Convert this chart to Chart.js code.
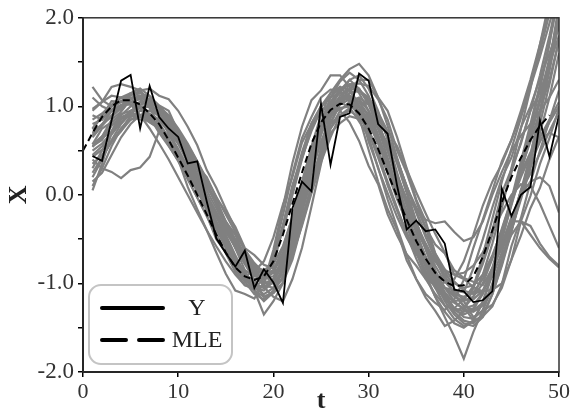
<!DOCTYPE html>
<html>
<head>
<meta charset="utf-8">
<script src="https://cdn.jsdelivr.net/npm/chart.js@4/dist/chart.umd.min.js"></script>
<style>
  html, body { margin: 0; padding: 0; background: #fff; }
</style>
</head>
<body>
<canvas id="chart" width="572" height="419"></canvas>
<script>
// observed series Y, t = 1..50
const observed = [0.44, 0.385, 0.84, 1.29, 1.355, 0.75, 1.23, 0.88, 0.75, 0.655,
  0.355, 0.38, -0.075, -0.49, -0.66, -0.81, -0.63, -1.05, -0.84, -0.99,
  -1.22, -0.15, 0.15, 0.04, 1.03, 0.34, 0.88, 0.92, 1.37, 1.29,
  0.80, 0.69, 0.10, -0.39, -0.29, -0.41, -0.39, -0.55, -1.07, -1.09,
  -1.21, -1.19, -1.09, 0.07, -0.24, 0.0, 0.09, 0.84, 0.43, 0.90];

// MLE estimate, t = 0..49
const mle = [0.50, 0.70, 0.88, 1.00, 1.07, 1.07, 1.02, 0.92, 0.80, 0.62,
  0.42, 0.22, 0.00, -0.22, -0.45, -0.65, -0.82, -0.92, -0.96, -0.92,
  -0.75, -0.45, -0.10, 0.25, 0.58, 0.82, 0.96, 1.03, 1.02, 0.92,
  0.75, 0.52, 0.25, -0.02, -0.28, -0.52, -0.72, -0.88, -0.98, -1.03,
  -1.02, -0.92, -0.70, -0.40, -0.08, 0.20, 0.42, 0.62, 0.78, 0.90];

// simulated paths, t = 1..50
const paths = [
  [1.22, 1.07, 1.0, 1.05, 1.15, 1.2, 1.12, 1.0, 0.85, 0.66, 0.45, 0.22, 0.0, -0.22, -0.45, -0.68, -0.9, -1.08, -1.2, -1.1, -0.85, -0.45, 0.02, 0.45, 0.82, 1.1, 1.28, 1.38, 1.3, 1.12, 0.85, 0.5, 0.15, -0.2, -0.52, -0.8, -1.05, -1.25, -1.4, -1.48, -1.42, -1.22, -0.9, -0.5, -0.1, 0.3, 0.7, 1.1, 1.55, 2.0],
  [0.1, 0.3, 0.55, 0.75, 0.88, 0.95, 0.95, 0.9, 0.8, 0.66, 0.5, 0.3, 0.1, -0.1, -0.3, -0.5, -0.66, -0.8, -0.88, -0.88, -0.78, -0.55, -0.2, 0.18, 0.5, 0.75, 0.9, 0.98, 1.0, 0.92, 0.75, 0.5, 0.22, -0.05, -0.32, -0.55, -0.75, -0.9, -1.0, -1.05, -1.02, -0.9, -0.68, -0.4, -0.08, 0.2, 0.45, 0.65, 0.85, 1.05],
  [0.4, 0.3, 0.26, 0.19, 0.28, 0.31, 0.43, 0.72, 0.68, 0.5, 0.32, 0.12, -0.08, -0.3, -0.5, -0.7, -0.88, -1.0, -1.05, -0.95, -0.7, -0.35, 0.05, 0.42, 0.72, 0.92, 1.02, 1.08, 1.0, 0.85, 0.62, 0.35, 0.05, -0.22, -0.48, -0.7, -0.9, -1.05, -1.15, -1.2, -1.15, -1.0, -0.72, -0.4, -0.05, 0.3, 0.6, 0.95, 1.3, 1.75],
  [0.75, 0.9, 1.0, 1.05, 1.05, 0.98, 0.88, 0.74, 0.56, 0.38, 0.18, -0.03, -0.24, -0.45, -0.65, -0.82, -0.95, -1.0, -0.92, -0.7, -0.35, 0.08, 0.48, 0.8, 1.0, 1.1, 1.15, 1.08, 0.92, 0.7, 0.42, 0.12, -0.16, -0.42, -0.66, -0.86, -1.02, -1.14, -1.2, -1.18, -1.05, -0.78, -0.45, -0.1, 0.25, 0.6, 0.95, 1.35, 1.8, 2.3],
  [0.45, 0.55, 0.68, 0.82, 0.92, 0.98, 1.0, 0.95, 0.85, 0.72, 0.56, 0.38, 0.18, -0.02, -0.22, -0.42, -0.62, -0.8, -0.92, -0.98, -0.9, -0.65, -0.28, 0.1, 0.45, 0.75, 0.95, 1.05, 1.1, 1.02, 0.88, 0.65, 0.38, 0.1, -0.18, -0.44, -0.66, -0.84, -0.98, -1.08, -1.12, -1.08, -0.92, -0.65, -0.3, 0.05, 0.35, 0.6, 0.82, 1.0],
  [0.9, 0.85, 1.0, 1.1, 1.12, 1.18, 1.05, 0.98, 0.8, 0.7, 0.48, 0.35, 0.1, -0.05, -0.3, -0.45, -0.7, -0.82, -1.0, -0.95, -0.8, -0.4, 0.0, 0.5, 0.75, 1.05, 1.15, 1.3, 1.2, 1.05, 0.78, 0.55, 0.2, -0.05, -0.38, -0.6, -0.9, -1.1, -1.3, -1.35, -1.3, -1.1, -0.82, -0.45, -0.1, 0.35, 0.75, 1.2, 1.7, 2.4],
  [0.55, 0.62, 0.78, 0.88, 0.92, 0.9, 0.85, 0.76, 0.62, 0.45, 0.28, 0.1, -0.08, -0.25, -0.42, -0.58, -0.72, -0.82, -0.85, -0.78, -0.58, -0.25, 0.12, 0.45, 0.72, 0.88, 0.98, 1.0, 0.95, 0.8, 0.6, 0.35, 0.08, -0.18, -0.4, -0.6, -0.75, -0.85, -0.9, -0.88, -0.8, -0.65, -0.42, -0.2, 0.0, 0.12, 0.1, -0.1, -0.35, -0.6],
  [0.3, 0.5, 0.72, 0.9, 1.0, 1.05, 1.02, 0.92, 0.78, 0.6, 0.4, 0.2, 0.0, -0.2, -0.4, -0.6, -0.78, -0.9, -0.95, -0.85, -0.6, -0.25, 0.15, 0.52, 0.82, 1.0, 1.1, 1.12, 1.0, 0.82, 0.58, 0.3, 0.02, -0.04, -0.15, -0.28, -0.32, -0.3, -0.42, -0.52, -0.48, -0.3, 0.0, 0.26, 0.5, 0.67, 0.8, 0.95, 1.1, 1.3],
  [0.2, 0.4, 0.62, 0.8, 0.92, 1.0, 1.0, 0.92, 0.8, 0.62, 0.42, 0.2, -0.02, -0.25, -0.48, -0.7, -0.9, -1.05, -1.12, -1.05, -0.82, -0.45, 0.0, 0.42, 0.78, 1.02, 1.18, 1.25, 1.2, 1.02, 0.75, 0.42, 0.08, -0.28, -0.6, -0.9, -1.15, -1.38, -1.6, -1.85, -1.55, -1.3, -1.0, -0.7, -0.45, -0.3, -0.35, -0.55, -0.7, -0.8],
  [0.05, 0.35, 0.7, 0.95, 1.08, 1.12, 1.08, 0.98, 0.82, 0.62, 0.4, 0.15, -0.1, -0.35, -0.58, -0.78, -0.95, -1.08, -1.15, -1.1, -0.92, -0.58, -0.15, 0.3, 0.68, 0.98, 1.18, 1.3, 1.35, 1.2, 0.95, 0.62, 0.25, -0.1, -0.42, -0.72, -0.98, -1.2, -1.35, -1.45, -1.48, -1.38, -1.12, -0.78, -0.4, 0.0, 0.42, 0.9, 1.45, 2.1],
  [0.65, 0.78, 0.9, 1.0, 1.08, 1.1, 1.05, 0.92, 0.78, 0.58, 0.36, 0.14, -0.1, -0.32, -0.54, -0.75, -0.92, -1.05, -1.08, -0.98, -0.72, -0.32, 0.12, 0.55, 0.9, 1.15, 1.3, 1.42, 1.48, 1.35, 1.1, 0.78, 0.42, 0.05, -0.3, -0.62, -0.9, -1.12, -1.28, -1.38, -1.4, -1.3, -1.05, -0.72, -0.35, 0.05, 0.45, 0.9, 1.4, 1.95],
  [0.5, 0.58, 0.7, 0.85, 0.95, 1.02, 1.05, 1.0, 0.9, 0.75, 0.58, 0.38, 0.15, -0.1, -0.35, -0.6, -0.85, -1.08, -1.35, -1.2, -1.0, -0.62, -0.18, 0.25, 0.6, 0.88, 1.05, 1.15, 1.18, 1.08, 0.92, 0.68, 0.4, 0.1, -0.2, -0.48, -0.72, -0.95, -1.12, -1.25, -1.3, -1.22, -1.05, -0.75, -0.4, -0.02, 0.38, 0.8, 1.25, 1.75],
  [0.85, 0.92, 1.02, 1.1, 1.15, 1.12, 1.02, 0.9, 0.75, 0.58, 0.4, 0.2, 0.0, -0.2, -0.4, -0.58, -0.75, -0.88, -0.95, -0.88, -0.65, -0.3, 0.1, 0.48, 0.78, 0.98, 1.08, 1.12, 1.05, 0.9, 0.66, 0.38, 0.08, -0.22, -0.5, -0.75, -0.95, -1.1, -1.22, -1.28, -1.25, -1.1, -0.85, -0.5, -0.12, 0.25, 0.65, 1.05, 1.5, 2.05],
  [0.35, 0.45, 0.6, 0.72, 0.85, 0.88, 0.82, 0.75, 0.6, 0.48, 0.3, 0.15, -0.05, -0.2, -0.38, -0.55, -0.7, -0.85, -0.9, -0.85, -0.7, -0.4, -0.05, 0.3, 0.6, 0.8, 0.9, 0.95, 0.88, 0.72, 0.5, 0.25, -0.05, -0.3, -0.55, -0.75, -0.92, -1.05, -1.12, -1.15, -1.1, -0.95, -0.7, -0.38, -0.05, 0.25, 0.48, 0.62, 0.7, 0.65],
  [0.95, 1.05, 1.12, 1.1, 1.02, 0.9, 0.75, 0.58, 0.4, 0.2, 0.0, -0.2, -0.4, -0.58, -0.75, -0.9, -1.02, -1.05, -0.95, -0.72, -0.4, 0.0, 0.4, 0.75, 1.0, 1.15, 1.22, 1.18, 1.0, 0.75, 0.45, 0.15, -0.15, -0.45, -0.72, -0.95, -1.12, -1.25, -1.3, -1.28, -1.15, -0.9, -0.55, -0.15, 0.3, 0.75, 1.2, 1.7, 2.2, 2.8],
  [0.7, 0.8, 0.88, 0.98, 1.05, 1.08, 1.0, 0.88, 0.7, 0.52, 0.3, 0.08, -0.15, -0.38, -0.6, -0.8, -0.98, -1.12, -1.18, -1.08, -0.82, -0.42, 0.02, 0.45, 0.8, 1.05, 1.2, 1.25, 1.15, 0.95, 0.68, 0.35, 0.0, -0.35, -0.65, -0.92, -1.15, -1.32, -1.45, -1.5, -1.42, -1.2, -0.88, -0.48, -0.05, 0.38, 0.8, 1.25, 1.72, 2.25],
  [0.25, 0.42, 0.6, 0.75, 0.85, 0.9, 0.9, 0.84, 0.72, 0.58, 0.42, 0.24, 0.05, -0.15, -0.35, -0.55, -0.72, -0.86, -0.94, -0.92, -0.75, -0.42, -0.02, 0.38, 0.7, 0.92, 1.05, 1.1, 1.08, 0.95, 0.75, 0.5, 0.22, -0.06, -0.34, -0.58, -0.8, -0.98, -1.1, -1.18, -1.18, -1.08, -0.85, -0.55, -0.25, 0.0, 0.15, 0.2, 0.1, -0.2],
  [1.1, 1.0, 0.95, 0.98, 1.05, 1.1, 1.08, 1.0, 0.88, 0.72, 0.55, 0.35, 0.12, -0.1, -0.32, -0.52, -0.72, -0.88, -1.0, -1.0, -0.85, -0.52, -0.1, 0.32, 0.68, 0.95, 1.12, 1.2, 1.18, 1.05, 0.82, 0.52, 0.2, -0.12, -0.42, -0.7, -0.95, -1.15, -1.32, -1.42, -1.45, -1.35, -1.12, -0.8, -0.42, 0.0, 0.45, 0.95, 1.5, 2.15],
  [0.15, 0.25, 0.45, 0.65, 0.8, 0.9, 0.95, 0.92, 0.82, 0.68, 0.52, 0.32, 0.12, -0.1, -0.32, -0.52, -0.72, -0.9, -1.02, -1.05, -0.95, -0.7, -0.32, 0.1, 0.5, 0.82, 1.02, 1.15, 1.18, 1.1, 0.92, 0.65, 0.35, 0.02, -0.3, -0.6, -0.85, -1.05, -1.2, -1.3, -1.32, -1.25, -1.05, -0.75, -0.4, -0.05, 0.3, 0.7, 1.1, 1.6],
  [0.8, 0.85, 0.95, 1.02, 1.02, 0.98, 0.9, 0.78, 0.62, 0.45, 0.25, 0.05, -0.15, -0.35, -0.55, -0.72, -0.88, -1.0, -1.05, -0.98, -0.78, -0.42, 0.0, 0.4, 0.72, 0.95, 1.08, 1.12, 1.05, 0.88, 0.62, 0.32, 0.0, -0.3, -0.58, -0.82, -1.02, -1.18, -1.28, -1.32, -1.28, -1.12, -0.85, -0.55, -0.3, -0.3, -0.45, -0.6, -0.72, -0.82],
  [0.67, 0.79, 0.96, 1.06, 1.1, 1.08, 1.0, 0.92, 0.69, 0.5, 0.26, 0.03, -0.12, -0.43, -0.66, -0.87, -1.02, -1.07, -1.02, -0.67, -0.23, 0.24, 0.64, 0.88, 1.1, 1.19, 1.18, 1.05, 0.88, 0.51, 0.15, -0.16, -0.4, -0.74, -0.95, -1.12, -1.22, -1.3, -1.18, -0.96, -0.6, -0.28, 0.05, 0.38, 0.62, 0.9, 1.25, 1.62, 2.05, 2.5],
  [0.57, 0.75, 0.82, 0.91, 0.95, 1.0, 0.87, 0.77, 0.63, 0.46, 0.2, 0.07, -0.12, -0.31, -0.51, -0.76, -0.85, -0.92, -0.91, -0.8, -0.36, 0.05, 0.42, 0.72, 0.96, 1.0, 1.05, 0.99, 0.83, 0.66, 0.3, 0.02, -0.25, -0.48, -0.67, -0.78, -0.98, -1.05, -1.08, -1.1, -0.83, -0.5, -0.14, 0.19, 0.42, 0.76, 1.0, 1.31, 1.6, 1.9],
  [0.69, 0.79, 0.95, 1.0, 1.14, 1.15, 1.11, 1.01, 0.95, 0.71, 0.52, 0.31, 0.08, -0.05, -0.34, -0.57, -0.78, -0.96, -1.15, -1.11, -0.99, -0.73, -0.33, 0.05, 0.54, 0.87, 1.08, 1.25, 1.26, 1.23, 1.08, 0.85, 0.5, 0.25, -0.07, -0.37, -0.7, -0.86, -1.06, -1.2, -1.38, -1.31, -1.24, -1.05, -0.73, -0.3, -0.01, 0.35, 0.64, 0.98],
  [0.55, 0.65, 0.7, 0.86, 0.9, 0.88, 0.88, 0.7, 0.55, 0.39, 0.2, 0.06, -0.18, -0.38, -0.57, -0.74, -0.92, -0.86, -0.75, -0.48, -0.11, 0.2, 0.59, 0.8, 0.93, 1.04, 0.95, 0.82, 0.61, 0.33, 0.12, -0.22, -0.46, -0.67, -0.8, -0.95, -1.02, -0.99, -0.95, -0.75, -0.45, -0.12, 0.15, 0.35, 0.62, 0.95, 1.3, 1.7, 2.1, 2.5],
  [0.57, 0.66, 0.79, 0.88, 0.88, 0.95, 0.92, 0.85, 0.74, 0.68, 0.45, 0.28, 0.1, -0.09, -0.32, -0.44, -0.62, -0.77, -0.88, -0.86, -0.86, -0.67, -0.35, 0.02, 0.37, 0.65, 0.9, 0.96, 1.03, 1.03, 0.93, 0.72, 0.55, 0.29, 0.03, -0.21, -0.44, -0.65, -0.9, -0.95, -1.04, -1.09, -1.07, -1.0, -0.73, -0.46, -0.15, 0.08, 0.4, 0.66],
  [0.97, 1.05, 1.22, 1.25, 1.22, 1.18, 0.98, 0.8, 0.58, 0.4, 0.09, -0.16, -0.4, -0.65, -0.89, -1.08, -1.12, -1.17, -0.99, -0.62, -0.14, 0.36, 0.77, 1.07, 1.18, 1.35, 1.35, 1.22, 0.99, 0.6, 0.31, -0.05, -0.37, -0.68, -0.95, -1.16, -1.31, -1.48, -1.42, -1.31, -1.05, -0.68, -0.27, 0.15, 0.52, 0.87, 1.22, 1.56, 1.94, 2.3],
  [0.54, 0.66, 0.85, 0.94, 1.08, 1.18, 1.2, 1.12, 1.08, 0.95, 0.77, 0.56, 0.28, 0.08, -0.16, -0.38, -0.62, -0.85, -1.04, -1.15, -1.2, -0.95, -0.6, -0.13, 0.35, 0.8, 1.03, 1.2, 1.3, 1.3, 1.1, 0.95, 0.65, 0.3, -0.05, -0.3, -0.66, -0.91, -1.12, -1.26, -1.42, -1.37, -1.26, -1.01, -0.58, -0.26, 0.14, 0.5, 0.84, 1.18],
  [0.74, 0.89, 1.06, 1.05, 1.05, 1.0, 0.82, 0.76, 0.58, 0.46, 0.18, -0.03, -0.23, -0.5, -0.65, -0.84, -0.98, -0.95, -0.95, -0.71, -0.34, 0.11, 0.42, 0.81, 1.0, 1.1, 1.22, 1.1, 0.95, 0.71, 0.5, 0.11, -0.18, -0.45, -0.62, -0.89, -1.05, -1.16, -1.28, -1.18, -1.03, -0.74, -0.4, 0.02, 0.29, 0.58, 0.95, 1.16, 1.47, 1.8],
  [0.43, 0.51, 0.6, 0.72, 0.9, 0.85, 0.85, 0.81, 0.65, 0.61, 0.47, 0.32, 0.2, -0.03, -0.19, -0.36, -0.6, -0.68, -0.79, -0.83, -0.7, -0.58, -0.27, 0.09, 0.4, 0.7, 0.81, 0.89, 0.86, 0.89, 0.77, 0.58, 0.4, 0.09, -0.14, -0.37, -0.56, -0.66, -0.85, -0.94, -0.98, -1.02, -0.83, -0.6, -0.32, 0.05, 0.24, 0.47, 0.72, 0.94]
];

const xTicks = [0, 10, 20, 30, 40, 50];
const yTicks = [-2, -1, 0, 1, 2];

const serif = '"Liberation Serif", "Times New Roman", serif';

const toPoints = (values, start) => values.map((v, i) => ({ x: start + i, y: v }));

const datasets = [
  {
    label: 'Y',
    data: toPoints(observed, 1),
    borderColor: '#000',
    borderWidth: 1.8,
    order: 0
  },
  {
    label: 'MLE',
    data: toPoints(mle, 0),
    borderColor: '#000',
    borderWidth: 2,
    borderDash: [7, 4],
    order: 1
  },
  ...paths.map((p, i) => ({
    label: 'path ' + (i + 1),
    data: toPoints(p, 1),
    borderColor: '#808080',
    borderWidth: 2.2,
    order: 2
  }))
];

// box round the chart area (top and right sides)
const frame = {
  id: 'frame',
  afterDatasetsDraw(chart) {
    const { ctx, chartArea: a } = chart;
    ctx.save();
    ctx.strokeStyle = '#333';
    ctx.lineWidth = 1.5;
    ctx.strokeRect(a.left, a.top, a.right - a.left, a.bottom - a.top);
    ctx.restore();
  }
};

// legend with rounded light-gray frame in the lower left corner
const legendBox = {
  id: 'legendBox',
  afterDraw(chart) {
    const { ctx, chartArea: a } = chart;
    const x = a.left + 6, w = 143, h = 79, y = a.bottom - 8 - h;
    ctx.save();
    ctx.beginPath();
    ctx.roundRect(x, y, w, h, 12);
    ctx.fillStyle = 'rgba(255,255,255,0.85)';
    ctx.fill();
    ctx.strokeStyle = '#c4c4c4';
    ctx.lineWidth = 2;
    ctx.stroke();

    const rows = [
      { text: 'Y', dash: [], cy: y + 23 },
      { text: 'MLE', dash: [24, 13], cy: y + 55 }
    ];
    ctx.font = '24px ' + serif;
    ctx.textBaseline = 'middle';
    ctx.textAlign = 'center';
    rows.forEach(r => {
      ctx.beginPath();
      ctx.setLineDash(r.dash);
      ctx.lineWidth = 4;
      ctx.lineCap = 'round';
      ctx.strokeStyle = '#000';
      ctx.moveTo(x + 13, r.cy);
      ctx.lineTo(x + 74, r.cy);
      ctx.stroke();
      ctx.setLineDash([]);
      ctx.fillStyle = '#222';
      ctx.fillText(r.text, x + 108, r.cy + 1);
    });
    ctx.restore();
  }
};

new Chart(document.getElementById('chart'), {
  type: 'line',
  data: { datasets },
  options: {
    responsive: false,
    animation: false,
    events: [],
    layout: { padding: { top: 16, right: 11, left: 0, bottom: 0 } },
    elements: {
      line: { tension: 0, fill: false },
      point: { radius: 0 }
    },
    plugins: {
      legend: { display: false },
      tooltip: { enabled: false }
    },
    scales: {
      x: {
        type: 'linear',
        min: 0,
        max: 50,
        afterBuildTicks: s => { s.ticks = xTicks.map(v => ({ value: v })); },
        afterFit: s => { s.height = 47; },
        ticks: {
          color: '#333',
          padding: 2,
          font: { family: serif, size: 22 },
          callback: v => String(v)
        },
        grid: { drawOnChartArea: false, color: '#000', tickLength: 5, lineWidth: 1.5 },
        border: { color: '#000', width: 2 },
        title: {
          display: true,
          text: 't',
          color: '#222',
          font: { family: serif, size: 26, weight: 'bold' },
          padding: { top: 0, bottom: 2 }
        }
      },
      y: {
        min: -2,
        max: 2,
        afterBuildTicks: s => {
          const t = [];
          for (let v = -2; v <= 2.001; v += 0.5) t.push({ value: v });
          s.ticks = t;
        },
        afterFit: s => { s.width = 83; },
        ticks: {
          color: '#333',
          padding: 4,
          font: { family: serif, size: 23 },
          callback: v => yTicks.includes(v) ? v.toFixed(1) : ''
        },
        grid: { drawOnChartArea: false, color: '#000', tickLength: 5, lineWidth: 1.5 },
        border: { color: '#000', width: 2 },
        title: {
          display: true,
          text: 'X',
          color: '#222',
          font: { family: serif, size: 26, weight: 'bold' },
          padding: { top: 4, bottom: 0 }
        }
      }
    }
  },
  plugins: [frame, legendBox]
});
</script>
</body>
</html>
